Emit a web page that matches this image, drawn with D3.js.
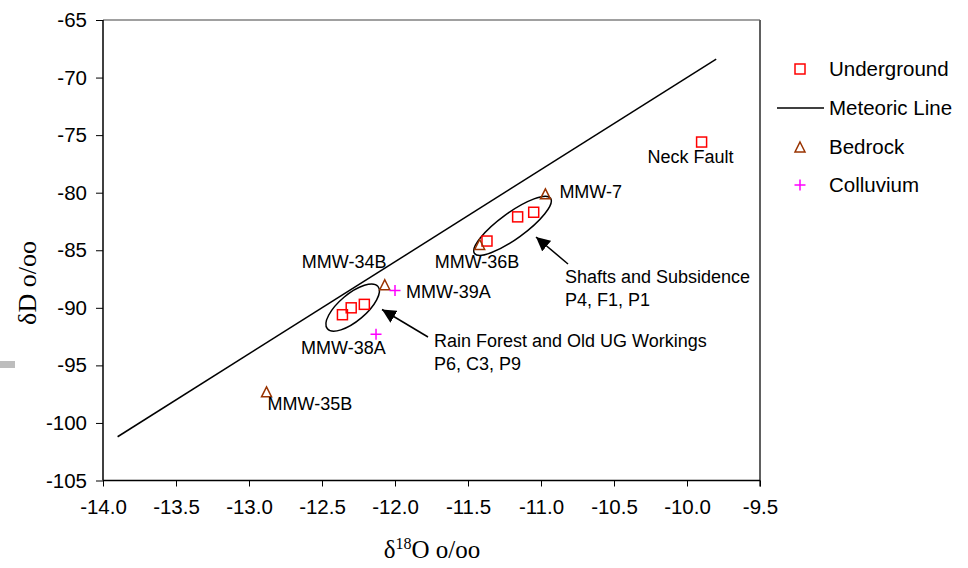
<!DOCTYPE html>
<html>
<head>
<meta charset="utf-8">
<script src="https://cdn.jsdelivr.net/npm/d3@7"></script>
<style>
  html, body { margin: 0; padding: 0; background: #fff; }
  svg { display: block; font-family: Arial, "Liberation Sans", sans-serif; }
</style>
</head>
<body>
<svg id="chart" width="968" height="568"></svg>
<script>
// Underground water samples
const undergroundX = [-12.36, -12.30, -12.21, -11.37, -11.16, -11.05, -9.90];
const undergroundY = [-90.6, -90.0, -89.7, -84.2, -82.1, -81.7, -75.6];

// Bedrock samples
const bedrockNames = ["MMW-35B", "MMW-34B", "MMW-36B", "MMW-7"];
const bedrockX = [-12.88, -12.07, -11.42, -10.97];
const bedrockY = [-97.3, -88.0, -84.5, -80.1];

// Colluvium samples
const colluviumNames = ["MMW-39A", "MMW-38A"];
const colluviumX = [-12.0, -12.13];
const colluviumY = [-88.5, -92.3];

// Meteoric water line (dD = 8 d18O + 10)
const meteoricX = [-13.9, -9.8];
const meteoricY = [-101.2, -68.4];

// Axis ticks
const xTicks = [-14.0, -13.5, -13.0, -12.5, -12.0, -11.5, -11.0, -10.5, -10.0, -9.5];
const yTicks = [-105, -100, -95, -90, -85, -80, -75, -70, -65];

const legendLabels = ["Underground", "Meteoric Line", "Bedrock", "Colluvium"];

const svg = d3.select("#chart");
const plot = { left: 103, right: 760, top: 20, bottom: 480.5 };

const x = d3.scaleLinear().domain([-14, -9.5]).range([plot.left, plot.right]);
const y = d3.scaleLinear().domain([-105, -65]).range([plot.bottom, plot.top]);

const RED = "#ff0000", BROWN = "#993300", MAGENTA = "#ff00ff";
const SANS = "Arial, 'Liberation Sans', sans-serif";
const SERIF = "'Liberation Serif', 'Times New Roman', serif";

// grey fragment at the left edge
svg.append("rect").attr("x", 0).attr("y", 361).attr("width", 15).attr("height", 7).attr("fill", "#bdbdbd");

// plot frame (top and right)
svg.append("line").attr("x1", plot.left).attr("x2", plot.right).attr("y1", plot.top).attr("y2", plot.top)
  .attr("stroke", "#808080").attr("stroke-width", 1.5);
svg.append("line").attr("x1", plot.right).attr("x2", plot.right).attr("y1", plot.top).attr("y2", plot.bottom + 6)
  .attr("stroke", "#606060").attr("stroke-width", 2);

// axes
const xAxis = d3.axisBottom(x).tickValues(xTicks).tickSize(6).tickPadding(13)
  .tickFormat(d => d.toFixed(1));
const yAxis = d3.axisLeft(y).tickValues(yTicks).tickSize(7).tickPadding(9)
  .tickFormat(d => String(d));

const gx = svg.append("g").attr("transform", `translate(0,${plot.bottom})`).call(xAxis);
const gy = svg.append("g").attr("transform", `translate(${plot.left},0)`).call(yAxis);
[gx, gy].forEach(g => {
  g.select(".domain").attr("stroke", "#000").attr("stroke-width", 1.5);
  g.selectAll(".tick line").attr("stroke", "#000").attr("stroke-width", 1);
  g.selectAll(".tick text").attr("fill", "#000").style("font-size", "20.5px").style("font-family", SANS);
});
gx.select(".domain").attr("d", `M${plot.left},0H${plot.right}`);
gy.select(".domain").attr("d", `M0,${plot.bottom}V${plot.top}`);

// axis titles
svg.append("text").attr("x", 432).attr("y", 558).attr("text-anchor", "middle")
  .style("font-family", SERIF).style("font-size", "25px")
  .call(t => {
    t.append("tspan").text("δ");
    t.append("tspan").attr("dy", -9).style("font-size", "16px").text("18");
    t.append("tspan").attr("dy", 9).text("O o/oo");
  });
svg.append("text").attr("transform", "translate(36,283) rotate(-90)").attr("text-anchor", "middle")
  .style("font-family", SERIF).style("font-size", "26px")
  .text("δD o/oo");

// meteoric line
svg.append("path")
  .datum(meteoricX.map((v, i) => [v, meteoricY[i]]))
  .attr("d", d3.line().x(d => x(d[0])).y(d => y(d[1])))
  .attr("fill", "none").attr("stroke", "#000").attr("stroke-width", 1.5);

// grouping ellipses (centre in data units, radii in pixels)
const ellipses = [
  { cx: -12.29, cy: -89.98, rx: 33, ry: 13.5, angle: -40 },
  { cx: -11.195, cy: -82.88, rx: 47, ry: 13, angle: -36 }
];
svg.selectAll(".grp").data(ellipses).join("ellipse")
  .attr("transform", d => `translate(${x(d.cx)},${y(d.cy)}) rotate(${d.angle})`)
  .attr("rx", d => d.rx).attr("ry", d => d.ry)
  .attr("fill", "none").attr("stroke", "#000").attr("stroke-width", 1.5);

// arrows
const defs = svg.append("defs");
defs.append("marker").attr("id", "head").attr("viewBox", "0 0 10 10")
  .attr("refX", 10).attr("refY", 5).attr("markerWidth", 14).attr("markerHeight", 14)
  .attr("markerUnits", "userSpaceOnUse").attr("orient", "auto")
  .append("path").attr("d", "M0,0L10,5L0,10Z").attr("fill", "#000");
const arrows = [
  { x1: 428, y1: 337, x2: 382, y2: 309.5 },
  { x1: 568, y1: 264, x2: 536, y2: 237 }
];
svg.selectAll(".arrow").data(arrows).join("line")
  .attr("x1", d => d.x1).attr("y1", d => d.y1).attr("x2", d => d.x2).attr("y2", d => d.y2)
  .attr("stroke", "#000").attr("stroke-width", 1.5).attr("marker-end", "url(#head)");

// symbol helpers
const sq = 10;
function square(g, cx, cy) {
  g.append("rect").attr("x", cx - sq / 2).attr("y", cy - sq / 2).attr("width", sq).attr("height", sq)
    .attr("fill", "none").attr("stroke", RED).attr("stroke-width", 1.5);
}
function triangle(g, cx, cy) {
  const h = 10, w = 10;
  g.append("path").attr("d", `M${cx},${cy - h / 2}L${cx + w / 2},${cy + h / 2}L${cx - w / 2},${cy + h / 2}Z`)
    .attr("fill", "none").attr("stroke", BROWN).attr("stroke-width", 1.5);
}
function plus(g, cx, cy) {
  const s = 5.5;
  g.append("path").attr("d", `M${cx - s},${cy}H${cx + s}M${cx},${cy - s}V${cy + s}`)
    .attr("fill", "none").attr("stroke", MAGENTA).attr("stroke-width", 1.5);
}

const marks = svg.append("g");
undergroundX.forEach((v, i) => square(marks, x(v), y(undergroundY[i])));
bedrockX.forEach((v, i) => triangle(marks, x(v), y(bedrockY[i])));
colluviumX.forEach((v, i) => plus(marks, x(v), y(colluviumY[i])));

// point labels (offset from their point, in pixels)
const labelFont = "18px";
const pointLabels = [
  { text: bedrockNames[0], px: bedrockX[0], py: bedrockY[0], dx: 1, dy: 12 },
  { text: bedrockNames[1], px: bedrockX[1], py: bedrockY[1], dx: -83, dy: -23 },
  { text: bedrockNames[2], px: bedrockX[2], py: bedrockY[2], dx: -45, dy: 17 },
  { text: bedrockNames[3], px: bedrockX[3], py: bedrockY[3], dx: 14, dy: -2 },
  { text: colluviumNames[0], px: colluviumX[0], py: colluviumY[0], dx: 11, dy: 1 },
  { text: colluviumNames[1], px: colluviumX[1], py: colluviumY[1], dx: -75, dy: 13 },
  { text: "Neck Fault", px: undergroundX[6], py: undergroundY[6], dx: -54, dy: 15 }
];
svg.selectAll(".plabel").data(pointLabels).join("text")
  .attr("x", d => x(d.px) + d.dx).attr("y", d => y(d.py) + d.dy).attr("dy", "0.35em")
  .style("font-size", labelFont).attr("fill", "#000").text(d => d.text);

// group annotations
const notes = [
  { lines: ["Shafts and Subsidence", "P4, F1, P1"], x: 565, y: 277 },
  { lines: ["Rain Forest and Old UG Workings", "P6, C3, P9"], x: 434, y: 341 }
];
notes.forEach(n => {
  n.lines.forEach((s, i) => {
    svg.append("text").attr("x", n.x).attr("y", n.y + i * 23).attr("dy", "0.35em")
      .style("font-size", labelFont).attr("fill", "#000").text(s);
  });
});

// legend
const lg = svg.append("g");
const legendY = [69, 108, 147, 185];
const legendTextX = 829;
square(lg, 800, legendY[0]);
lg.append("line").attr("x1", 777).attr("x2", 824).attr("y1", legendY[1]).attr("y2", legendY[1])
  .attr("stroke", "#000").attr("stroke-width", 1.5);
triangle(lg, 800, legendY[2]);
plus(lg, 800, legendY[3]);
legendLabels.forEach((s, i) => {
  lg.append("text").attr("x", legendTextX).attr("y", legendY[i]).attr("dy", "0.35em")
    .style("font-size", "20.5px").attr("fill", "#000").text(s);
});
</script>
</body>
</html>
